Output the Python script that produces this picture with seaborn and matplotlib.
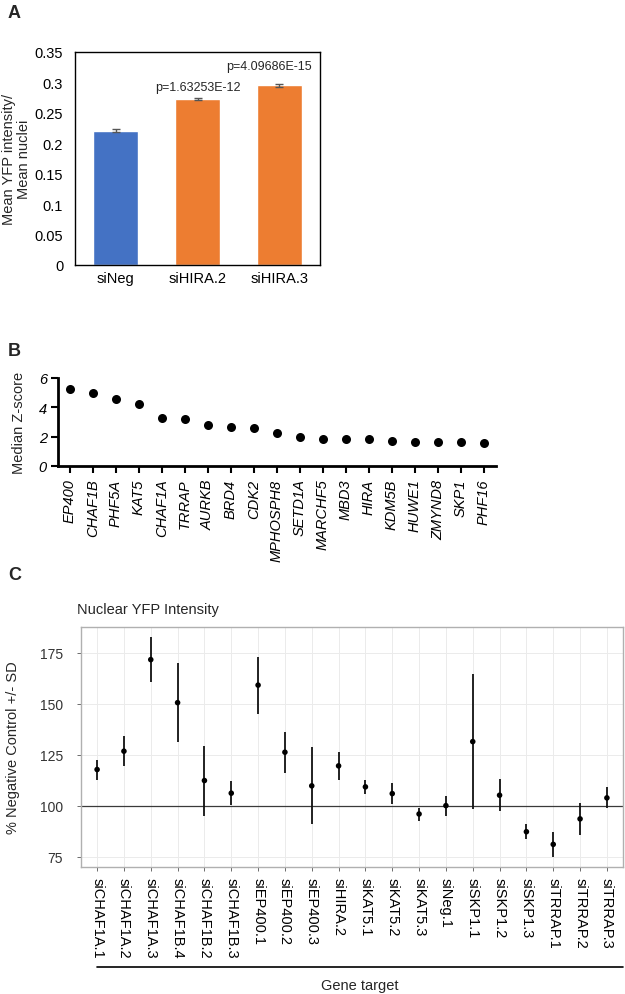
import numpy as np
import pandas as pd
import matplotlib
matplotlib.use("Agg")
import matplotlib.pyplot as plt
import matplotlib.transforms as mtransforms
from matplotlib.lines import Line2D
import seaborn as sns

# Panel A - bar chart
a_groups = ['siNeg', 'siHIRA.2', 'siHIRA.3']
a_means = [0.221, 0.273, 0.295]
a_err = [0.002, 0.002, 0.003]
a_pvals = ['', 'p=1.63253E-12', 'p=4.09686E-15']

# Panel B - median z-scores
b_genes = ['EP400', 'CHAF1B', 'PHF5A', 'KAT5', 'CHAF1A', 'TRRAP', 'AURKB', 'BRD4',
           'CDK2', 'MPHOSPH8', 'SETD1A', 'MARCHF5', 'MBD3', 'HIRA', 'KDM5B', 'HUWE1',
           'ZMYND8', 'SKP1', 'PHF16']
b_zscore = [5.22, 4.99, 4.60, 4.26, 3.25, 3.23, 2.79, 2.68, 2.59, 2.27, 1.99, 1.85,
            1.85, 1.81, 1.72, 1.67, 1.67, 1.65, 1.55]

# Panel C - nuclear YFP intensity (% of negative control)
c_targets = ['siCHAF1A.1', 'siCHAF1A.2', 'siCHAF1A.3', 'siCHAF1B.4', 'siCHAF1B.2',
             'siCHAF1B.3', 'siEP400.1', 'siEP400.2', 'siEP400.3', 'siHIRA.2', 'siKAT5.1',
             'siKAT5.2', 'siKAT5.3', 'siNeg.1', 'siSKP1.1', 'siSKP1.2', 'siSKP1.3',
             'siTRRAP.1', 'siTRRAP.2', 'siTRRAP.3']
c_mean = [117.8, 126.8, 171.7, 150.6, 112.4, 106.2, 159.2, 126.3, 109.8, 119.6, 109.3,
          106.0, 96.0, 100.1, 131.5, 105.2, 87.3, 81.1, 93.6, 103.9]
c_low = [112.9, 119.3, 160.6, 131.5, 94.9, 100.3, 145.1, 116.3, 91.0, 112.9, 105.7,
         100.7, 92.8, 95.0, 98.5, 97.5, 83.6, 75.0, 85.7, 98.7]
c_high = [122.4, 134.3, 182.7, 170.0, 129.3, 112.3, 172.9, 136.1, 128.8, 126.3, 112.9,
          111.3, 98.7, 104.8, 164.6, 113.0, 91.0, 87.2, 101.6, 109.0]

sns.set_theme(style="white")
plt.rcParams['font.family'] = ['Liberation Sans', 'DejaVu Sans']

W, H = 625, 995
fig = plt.figure(figsize=(W / 100, H / 100), dpi=100)


def box(l, t, r, b):
    return [l / W, 1 - b / H, (r - l) / W, (b - t) / H]


# ---------------- A ----------------
axA = fig.add_axes(box(75, 53, 320, 266))
sns.barplot(x=a_groups, y=a_means, hue=a_groups, palette=['#4472C4', '#ED7D31', '#ED7D31'],
            legend=False, width=0.55, saturation=1, ax=axA)
axA.errorbar(range(3), a_means, yerr=a_err, fmt='none', ecolor='#555555',
             elinewidth=1, capsize=3, capthick=1)
p_y = [0, 0.2925, 0.327]
p_dx = [0, 0, -0.13]
for i, p in enumerate(a_pvals):
    if p:
        axA.text(i + p_dx[i], p_y[i], p, ha='center', va='center', fontsize=9)
axA.set_xlim(-0.5, 2.5)
axA.set_ylim(0, 0.35)
yt = np.arange(0, 0.351, 0.05)
axA.set_yticks(yt)
axA.set_yticklabels([f'{v:g}' for v in np.round(yt, 2)])
axA.tick_params(axis='both', length=0, labelsize=10.5, colors='black')
axA.tick_params(axis='y', pad=8.5)
axA.tick_params(axis='x', pad=4)
for s in axA.spines.values():
    s.set_color('black')
    s.set_linewidth(1)
axA.set_ylabel('Mean YFP intensity/\nMean nuclei', fontsize=10.5, linespacing=1.15)
axA.yaxis.set_label_coords(-0.178, 0.5)
fig.text(8 / W, 1 - 13 / H, 'A', fontsize=13, weight='bold', va='center')

# ---------------- B ----------------
axB = fig.add_axes(box(58, 379, 496, 467))
sns.stripplot(x=b_genes, y=b_zscore, jitter=False, color='black', size=6.5, ax=axB)
axB.set_xlim(-0.52, 18.52)
axB.set_ylim(0, 6)
axB.set_yticks([0, 2, 4, 6])
sns.despine(ax=axB)
for side in ['left', 'bottom']:
    axB.spines[side].set_linewidth(2)
    axB.spines[side].set_color('black')
axB.tick_params(axis='both', direction='out', length=5, width=1.5, colors='black',
                bottom=True, left=True, labelsize=10.5)
axB.tick_params(axis='x', labelrotation=90, pad=4)
axB.tick_params(axis='y', pad=3)
for t in axB.get_xticklabels() + axB.get_yticklabels():
    t.set_fontstyle('italic')
axB.set_ylabel('Median Z-score', fontsize=10.5)
axB.yaxis.set_label_coords(-0.073, 0.5)
fig.text(8 / W, 1 - 352 / H, 'B', fontsize=13, weight='bold', va='center')

# ---------------- C ----------------
axC = fig.add_axes(box(81, 628, 623, 868))
xs = np.arange(len(c_targets))
axC.set_xlim(-0.6, len(c_targets) - 0.4)
axC.set_ylim(70, 187.7)
axC.set_xticks(xs)
axC.set_yticks([75, 100, 125, 150, 175])
axC.grid(True, color='#EBEBEB', linewidth=0.7)
axC.set_axisbelow(True)
axC.axhline(100, color='#3A3A3A', linewidth=0.9, zorder=1)
axC.vlines(xs, c_low, c_high, color='#111111', linewidth=1.3, zorder=2)
sns.scatterplot(x=xs, y=c_mean, color='black', s=16, edgecolor='none', zorder=3, ax=axC)
axC.set_xticklabels(c_targets)
for s in axC.spines.values():
    s.set_color('#B0B0B0')
    s.set_linewidth(1)
axC.tick_params(axis='both', direction='out', length=3, width=0.6, color='#555555',
                bottom=True, left=True)
axC.tick_params(axis='y', labelsize=10, labelcolor='#333333', pad=10)
axC.tick_params(axis='x', labelsize=10.5, labelcolor='black', pad=4)
for t in axC.get_xticklabels():
    t.set_rotation(270)
    t.set_ha('center')
    t.set_va('top')
axC.set_ylabel('% Negative Control +/- SD', fontsize=10.5)
axC.yaxis.set_label_coords(-0.113, 0.5)
fig.text(77 / W, 1 - 610 / H, 'Nuclear YFP Intensity', fontsize=10.5, va='center')
fig.text(8 / W, 1 - 576 / H, 'C', fontsize=13, weight='bold', va='center')

trans = mtransforms.blended_transform_factory(axC.transData, fig.transFigure)
fig.add_artist(Line2D([0, len(c_targets) - 0.4], [1 - 968 / H] * 2, color='black',
                      linewidth=1.2, transform=trans))
axC.text((len(c_targets) - 0.4) / 2, 1 - 986 / H, 'Gene target', transform=trans,
         ha='center', va='center', fontsize=10.5)

fig.savefig('out.png', dpi=100)
